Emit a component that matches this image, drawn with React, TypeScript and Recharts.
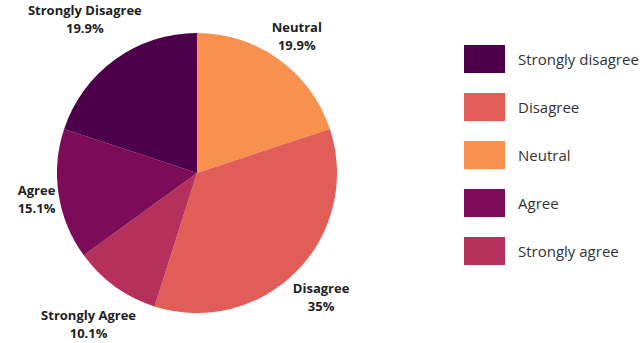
import React from 'react';
import { PieChart, Pie, Cell, Legend } from 'recharts';

// slices, clockwise from 12 o'clock
const sliceNames = ['Neutral', 'Disagree', 'Strongly Agree', 'Agree', 'Strongly Disagree'];
const sliceValues = [19.9, 35, 10.1, 15.1, 19.9];
const sliceLabels = ['19.9%', '35%', '10.1%', '15.1%', '19.9%'];
const sliceColors = ['#f8914d', '#e05e57', '#b5305a', '#7d0c58', '#4d0049'];

// legend as drawn on the right
const legendNames = ['Strongly disagree', 'Disagree', 'Neutral', 'Agree', 'Strongly agree'];
const legendColors = ['#4d0049', '#e05e57', '#f8914d', '#7d0c58', '#b5305a'];

const data = sliceNames.map((name, i) => ({ name, value: sliceValues[i], pct: sliceLabels[i] }));

const RADIAN = Math.PI / 180;
const FONT = '"Open Sans", "DejaVu Sans", sans-serif';

type LabelProps = {
  cx: number;
  cy: number;
  midAngle: number;
  outerRadius: number;
  index: number;
};

// push the two-line label out until its box clears the pie
const renderLabel = ({ cx, cy, midAngle, outerRadius, index }: LabelProps) => {
  const name = sliceNames[index];
  const halfW = name.length * 3.6;
  const halfH = 17;
  const c = Math.cos(-midAngle * RADIAN);
  const s = Math.sin(-midAngle * RADIAN);
  const r = outerRadius + 2 + Math.abs(c) * halfW + Math.abs(s) * halfH;
  const x = cx + r * c;
  const y = cy + r * s;
  return (
    <text
      x={x}
      y={y}
      fill="#222"
      textAnchor="middle"
      fontFamily={FONT}
      fontWeight={700}
      fontSize={13}
    >
      <tspan x={x} dy={-3}>{name}</tspan>
      <tspan x={x} dy={18}>{sliceLabels[index]}</tspan>
    </text>
  );
};

const renderLegend = () => (
  <div>
    {legendNames.map((n, i) => (
      <div key={n} style={{ display: 'flex', alignItems: 'center', height: 28, marginBottom: 20 }}>
        <div style={{ width: 41, height: 28, background: legendColors[i] }} />
        <span style={{ marginLeft: 13, fontFamily: FONT, fontSize: 15, color: '#333', whiteSpace: 'nowrap' }}>
          {n}
        </span>
      </div>
    ))}
  </div>
);

export default function App() {
  return (
    <div style={{ position: 'absolute', left: 0, top: 0, background: '#fff' }}>
      <PieChart width={640} height={343} margin={{ top: 0, right: 0, bottom: 0, left: 0 }}>
        <Pie
          data={data}
          dataKey="value"
          cx={197}
          cy={173}
          outerRadius={140}
          startAngle={90}
          endAngle={-270}
          stroke="none"
          labelLine={false}
          label={renderLabel}
          isAnimationActive={false}
        >
          {data.map((entry, index) => (
            <Cell key={`cell-${index}`} fill={sliceColors[index]} />
          ))}
        </Pie>
        <Legend
          content={renderLegend}
          layout="vertical"
          verticalAlign="top"
          align="right"
          wrapperStyle={{ left: 464, top: 45, width: 180 }}
        />
      </PieChart>
    </div>
  );
}
